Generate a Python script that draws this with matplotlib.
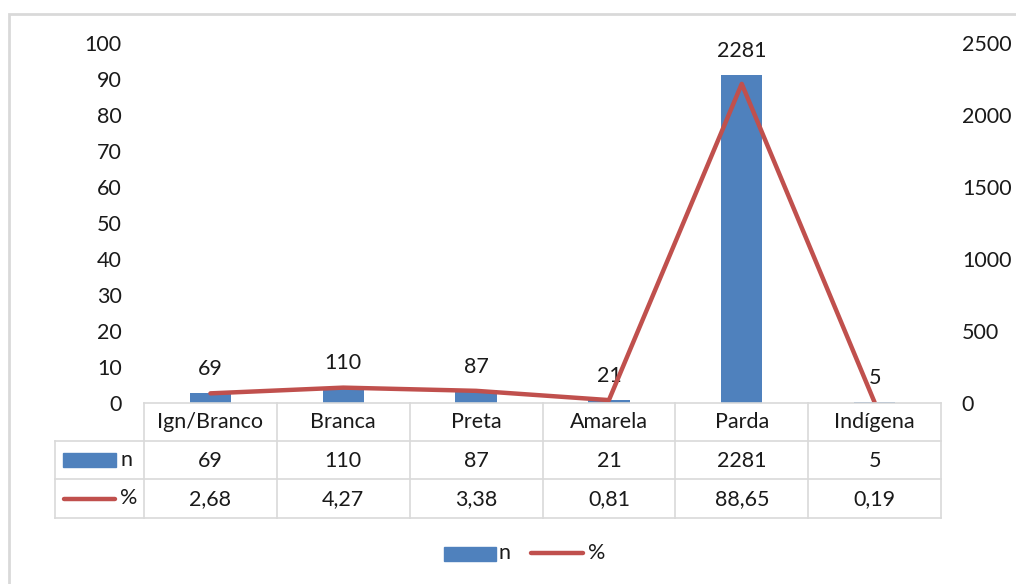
import matplotlib.pyplot as plt
from matplotlib.patches import Rectangle
from matplotlib.lines import Line2D

# data
categories = ["Ign/Branco", "Branca", "Preta", "Amarela", "Parda", "Indígena"]
n_values = [69, 110, 87, 21, 2281, 5]
pct_values = [2.68, 4.27, 3.38, 0.81, 88.65, 0.19]
pct_labels = ["2,68", "4,27", "3,38", "0,81", "88,65", "0,19"]

BLUE = "#4F81BD"
RED = "#C0504D"
GRID = "#D9D9D9"
TXT = "#1a1a1a"
FS = 15.5
W, H = 1016, 584

plt.rcParams['font.family'] = ['Lato', 'DejaVu Sans']
fig = plt.figure(figsize=(W / 100, H / 100), dpi=100)

def fx(px):
    return px / W

def fy(py):
    return 1 - py / H

# outer chart border
fig.add_artist(Rectangle((fx(9), fy(600)), fx(1020), fy(14) - fy(600),
                         transform=fig.transFigure, fill=False,
                         edgecolor="#D9D9D9", lw=2))

ax_left = fig.add_axes([fx(144), fy(403), fx(941) - fx(144), fy(43) - fy(403)])
ax_right = ax_left.twinx()
x = list(range(len(categories)))

# bars on the right axis, line on the left axis
ax_right.bar(x, n_values, width=0.31, color=BLUE, zorder=2)
ax_right.set_ylim(0, 2500)
ax_right.set_yticks(range(0, 2501, 500))
for xi, v in zip(x, n_values):
    ax_right.annotate(str(v), (xi, v), xytext=(0, 10), textcoords="offset points",
                      ha="center", va="bottom", fontsize=FS, color=TXT)

ax_left.plot(x, pct_values, color=RED, lw=3.2, zorder=3, solid_capstyle="round")
ax_left.set_ylim(0, 100)
ax_left.set_yticks(range(0, 101, 10))
ax_left.set_zorder(ax_right.get_zorder() + 1)
ax_left.patch.set_visible(False)
ax_left.set_xlim(-0.5, len(categories) - 0.5)
ax_left.set_xticks([])

for a in (ax_left, ax_right):
    for s in a.spines.values():
        s.set_visible(False)
    a.tick_params(length=0, labelsize=FS, labelcolor=TXT)
ax_left.tick_params(axis="y", pad=16)
ax_right.tick_params(axis="y", pad=15)

# data table under the plot
col_edges = [fx(144 + i * (941 - 144) / len(categories)) for i in range(len(categories) + 1)]
rows_y = [403, 441, 479, 518]
fig.add_artist(Line2D([fx(144), fx(941)], [fy(403), fy(403)], color=GRID, lw=1.2))
for py in rows_y[1:]:
    fig.add_artist(Line2D([fx(55), fx(941)], [fy(py), fy(py)], color=GRID, lw=1.2))
for ex in col_edges:
    fig.add_artist(Line2D([ex, ex], [fy(403), fy(518)], color=GRID, lw=1.2))
fig.add_artist(Line2D([fx(55), fx(55)], [fy(441), fy(518)], color=GRID, lw=1.2))

for i, cat in enumerate(categories):
    cx = (col_edges[i] + col_edges[i + 1]) / 2
    fig.text(cx, fy(422), cat, ha="center", va="center", fontsize=FS, color=TXT)
    fig.text(cx, fy(461), str(n_values[i]), ha="center", va="center", fontsize=FS, color=TXT)
    fig.text(cx, fy(499), pct_labels[i], ha="center", va="center", fontsize=FS, color=TXT)

# legend keys inside the table
fig.add_artist(Rectangle((fx(63), fy(467)), fx(53), fy(453) - fy(467),
                         transform=fig.transFigure, color=BLUE))
fig.text(fx(120), fy(460), "n", ha="left", va="center", fontsize=FS, color=TXT)
fig.add_artist(Line2D([fx(64), fx(115)], [fy(499), fy(499)], color=RED, lw=3.2,
                      solid_capstyle="round"))
fig.text(fx(120), fy(498), "%", ha="left", va="center", fontsize=FS, color=TXT)

# bottom legend
fig.add_artist(Rectangle((fx(444), fy(561)), fx(52), fy(547) - fy(561),
                         transform=fig.transFigure, color=BLUE))
fig.text(fx(499), fy(553), "n", ha="left", va="center", fontsize=FS, color=TXT)
fig.add_artist(Line2D([fx(531), fx(583)], [fy(553), fy(553)], color=RED, lw=3.2,
                      solid_capstyle="round"))
fig.text(fx(588), fy(553), "%", ha="left", va="center", fontsize=FS, color=TXT)

fig.savefig("out.png", dpi=100)
